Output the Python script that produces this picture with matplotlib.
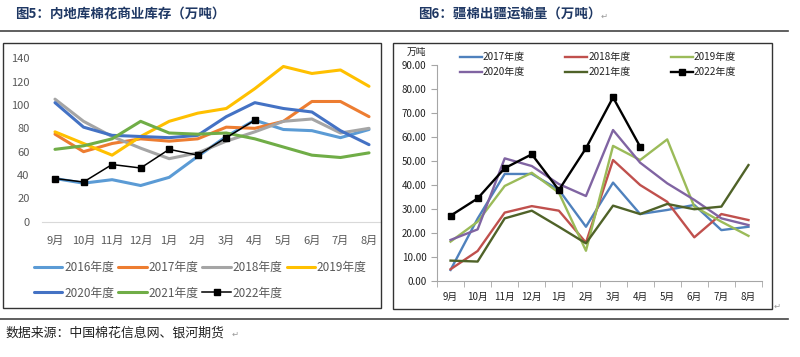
import matplotlib
matplotlib.use("Agg")
import matplotlib.pyplot as plt
from matplotlib.patches import Rectangle
from matplotlib.lines import Line2D
from matplotlib.ticker import FormatStrFormatter, FixedLocator

plt.rcParams['font.family'] = ['Noto Sans CJK SC', 'DejaVu Sans']

W, H = 800, 357

months = ["9月", "10月", "11月", "12月", "1月", "2月", "3月", "4月", "5月", "6月", "7月", "8月"]

# 图5 内地库棉花商业库存（万吨）
stock_2016 = [37, 33, 36, 31, 38, 56, 73, 87, 79, 78, 72, 79]
stock_2017 = [75, 60, 67, 71, 69, 71, 81, 80, 86, 103, 103, 90]
stock_2018 = [105, 86, 73, 63, 54, 59, 69, 77, 86, 88, 76, 80]
stock_2019 = [77, 67, 57, 73, 86, 93, 97, 114, 133, 127, 130, 116]
stock_2020 = [102, 81, 74, 73, 72, 74, 90, 102, 97, 94, 78, 66]
stock_2021 = [62, 65, 71, 86, 76, 75, 76, 71, 64, 57, 55, 59]
stock_2022 = [37, 34, 49, 46, 62, 57, 72, 87]

# 图6 疆棉出疆运输量（万吨）
ship_2017 = [4.6, 26.0, 44.6, 44.6, 38.0, 22.6, 41.0, 27.9, 29.6, 31.7, 21.2, 22.6]
ship_2018 = [4.9, 12.5, 28.5, 31.2, 29.3, 16.0, 50.4, 40.0, 33.0, 18.2, 27.9, 25.4]
ship_2019 = [16.4, 24.7, 39.6, 45.1, 36.8, 12.6, 56.3, 50.4, 59.0, 31.0, 24.7, 18.8]
ship_2020 = [17.1, 21.5, 51.1, 47.9, 40.4, 35.4, 62.9, 49.3, 40.7, 33.8, 26.1, 23.3]
ship_2021 = [8.5, 8.1, 26.1, 29.3, 22.6, 15.7, 31.4, 27.9, 32.1, 29.9, 31.0, 48.3]
ship_2022 = [27.2, 34.4, 47.0, 52.8, 37.9, 55.3, 76.5, 56.0]


def fx(x):
    return x / W


def fy(y):
    return 1 - y / H


fig = plt.figure(figsize=(8, 3.57), dpi=100)

# ---------- frame, titles, rules ----------
title_color = "#1F3864"
fig.text(fx(15), fy(14), "图5：内地库棉花商业库存（万吨）", fontsize=9.7, fontweight="bold",
         color=title_color, va="center", ha="left")
fig.text(fx(418), fy(14), "图6：疆棉出疆运输量（万吨）", fontsize=9.7, fontweight="bold",
         color=title_color, va="center", ha="left")
fig.text(fx(601), fy(16), "↵", fontsize=6, color="#999999", va="center", ha="left",
         family=['DejaVu Sans'])
fig.add_artist(Line2D([0, fx(788)], [fy(31), fy(31)], color="#444444", lw=1.2))
fig.add_artist(Line2D([0, fx(788)], [fy(319), fy(319)], color="#444444", lw=1.2))
fig.text(fx(5), fy(333), "数据来源：中国棉花信息网、银河期货", fontsize=9.3, color="#222222",
         va="center", ha="left")
fig.text(fx(232), fy(334), "↵", fontsize=6, color="#999999", va="center", ha="left",
         family=['DejaVu Sans'])
fig.text(fx(774), fy(306), "↵", fontsize=6, color="#999999", va="center", ha="left",
         family=['DejaVu Sans'])

fig.add_artist(Rectangle((fx(3), fy(308)), fx(381) - fx(3), fy(43) - fy(308),
                         fill=False, ec="#333333", lw=1.0, transform=fig.transFigure))
fig.add_artist(Rectangle((fx(393), fy(309)), fx(772) - fx(393), fy(43) - fy(309),
                         fill=False, ec="#333333", lw=1.0, transform=fig.transFigure))

# ---------- left chart ----------
ax1 = fig.add_axes([fx(42), fy(221.7), fx(381) - fx(42), fy(58.3) - fy(221.7)])
x_all = list(range(len(months)))
left_series = [
    ("2016年度", stock_2016, "#5B9BD5"),
    ("2017年度", stock_2017, "#ED7D31"),
    ("2018年度", stock_2018, "#A5A5A5"),
    ("2019年度", stock_2019, "#FFC000"),
    ("2020年度", stock_2020, "#4472C4"),
    ("2021年度", stock_2021, "#70AD47"),
]
handles1 = {}
for name, vals, col in left_series:
    h, = ax1.plot(x_all, vals, color=col, lw=2.2, solid_capstyle="round", label=name)
    handles1[name] = h
h, = ax1.plot(x_all[:len(stock_2022)], stock_2022, color="black", lw=1.1,
              marker="s", markersize=4.5, label="2022年度")
handles1["2022年度"] = h

ax1.set_xlim(-0.455, 11.42)
ax1.set_ylim(0, 140)
ax1.set_yticks(range(0, 141, 20))
ax1.set_xticks(x_all)
ax1.set_xticklabels(months)
for s in ["top", "right", "left"]:
    ax1.spines[s].set_visible(False)
ax1.spines["bottom"].set_color("#D9D9D9")
ax1.tick_params(axis="both", length=0, labelsize=8, labelcolor="#595959")
ax1.tick_params(axis="x", pad=10)
ax1.tick_params(axis="y", pad=9)

order1 = ["2016年度", "2020年度", "2017年度", "2021年度", "2018年度", "2022年度", "2019年度"]
leg1 = fig.legend([handles1[k] for k in order1], order1, ncol=4, loc="upper left",
                  bbox_to_anchor=(fx(34), fy(261)), frameon=False, fontsize=8.5,
                  handlelength=2.4, handletextpad=0.15, columnspacing=0.35,
                  labelspacing=1.05, borderaxespad=0, borderpad=0)
for t in leg1.get_texts():
    t.set_color("#595959")

# ---------- right chart ----------
ax2 = fig.add_axes([fx(437), fy(281), fx(762) - fx(437), fy(65) - fy(281)])
right_series = [
    ("2017年度", ship_2017, "#4F81BD"),
    ("2018年度", ship_2018, "#C0504D"),
    ("2019年度", ship_2019, "#9BBB59"),
    ("2020年度", ship_2020, "#8064A2"),
    ("2021年度", ship_2021, "#4F6228"),
]
handles2 = {}
for name, vals, col in right_series:
    h, = ax2.plot(x_all, vals, color=col, lw=1.7, label=name)
    handles2[name] = h
h, = ax2.plot(x_all[:len(ship_2022)], ship_2022, color="black", lw=1.7,
              marker="s", markersize=5, label="2022年度")
handles2["2022年度"] = h

ax2.set_xlim(-0.5, 11.5)
ax2.set_ylim(0, 90)
ax2.set_yticks(range(0, 91, 10))
ax2.yaxis.set_major_formatter(FormatStrFormatter("%.2f"))
ax2.set_xticks(x_all)
ax2.set_xticklabels(months)
ax2.xaxis.set_minor_locator(FixedLocator([i - 0.5 for i in range(13)]))
for s in ["top", "right"]:
    ax2.spines[s].set_visible(False)
for s in ["bottom", "left"]:
    ax2.spines[s].set_color("#A6A6A6")
ax2.tick_params(axis="x", which="major", length=0, labelsize=7, pad=8, labelcolor="#222222")
ax2.tick_params(axis="x", which="minor", length=4, color="#A6A6A6", direction="out")
ax2.tick_params(axis="y", length=4, color="#A6A6A6", labelsize=7, labelcolor="#222222")
fig.text(fx(416), fy(52), "万吨", fontsize=7, color="#222222", va="center", ha="center")

order2 = ["2017年度", "2020年度", "2018年度", "2021年度", "2019年度", "2022年度"]
leg2 = fig.legend([handles2[k] for k in order2], order2, ncol=3, loc="upper left",
                  bbox_to_anchor=(fx(460), fy(52)), frameon=False, fontsize=7.2,
                  handlelength=2.2, handletextpad=0.1, columnspacing=4.0,
                  labelspacing=0.5, borderaxespad=0, borderpad=0)
for t in leg2.get_texts():
    t.set_color("#222222")

fig.savefig("out.png", dpi=100)
